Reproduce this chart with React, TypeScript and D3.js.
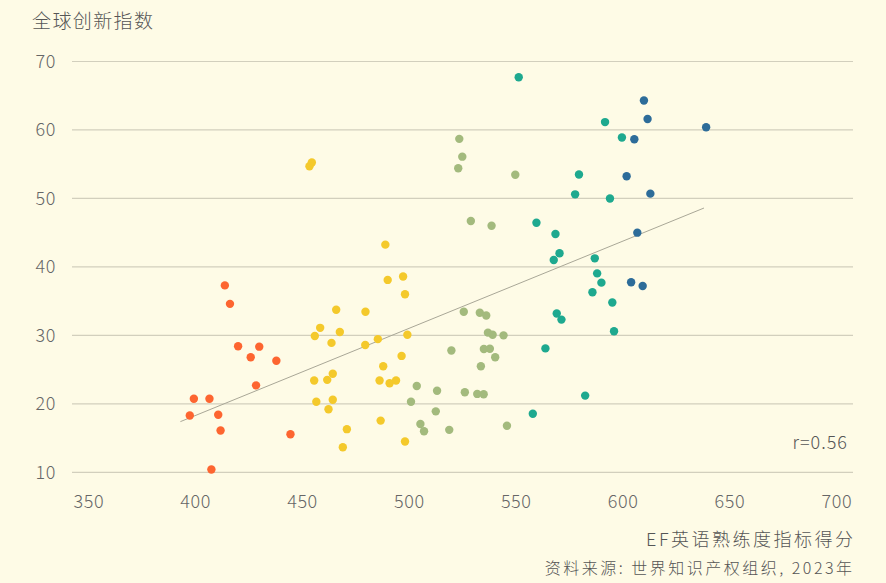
import React, { useEffect, useRef } from 'react';
import * as d3 from 'd3';

// EF English proficiency score (x) vs Global Innovation Index (y), grouped by score band
const orangeX = [413.8, 416.2, 420.0, 429.9, 425.9, 437.9, 428.4, 399.3, 406.6, 397.4, 410.7, 411.8, 444.5, 407.5];
const orangeY = [37.3, 34.6, 28.4, 28.35, 26.8, 26.3, 22.7, 20.75, 20.75, 18.3, 18.4, 16.1, 15.55, 10.4];

const yellowX = [454.5, 453.4, 488.9, 490.0, 497.2, 498.1, 465.9, 479.6, 458.4, 455.9, 467.6, 463.7, 485.4, 479.5, 499.2,
  496.5, 487.9, 464.3, 455.6, 461.7, 486.2, 490.9, 493.9, 456.6, 464.3, 462.3, 486.7, 470.9, 469.0, 498.1];
const yellowY = [55.25, 54.7, 43.25, 38.1, 38.6, 36.0, 33.75, 33.45, 31.1, 29.9, 30.5, 28.9, 29.45, 28.6, 30.1,
  27.0, 25.5, 24.4, 23.4, 23.5, 23.4, 23.0, 23.4, 20.3, 20.6, 19.2, 17.55, 16.3, 13.65, 14.5];

const sageX = [523.5, 524.9, 523.0, 549.7, 528.9, 538.6, 525.6, 533.1, 536.1, 536.9, 539.1, 544.2, 519.8, 535.0,
  537.8, 540.3, 533.6, 503.6, 513.1, 526.1, 531.9, 534.9, 500.9, 512.5, 505.3, 507.0, 518.8, 545.8];
const sageY = [58.7, 56.1, 54.4, 53.45, 46.7, 46.0, 33.45, 33.3, 32.9, 30.4, 30.1, 30.0, 27.8, 28.0,
  28.05, 26.8, 25.5, 22.6, 21.9, 21.7, 21.45, 21.4, 20.3, 18.9, 17.05, 16.0, 16.2, 16.8];

const tealX = [551.3, 591.7, 599.6, 579.5, 577.7, 594.0, 559.6, 568.5, 570.4, 567.7, 586.9, 588.0, 590.0, 585.8,
  595.1, 569.1, 571.3, 595.9, 563.8, 582.4, 557.9];
const tealY = [67.7, 61.15, 58.9, 53.5, 50.6, 50.0, 46.45, 44.8, 42.0, 41.0, 41.25, 39.05, 37.7, 36.3,
  34.8, 33.2, 32.3, 30.6, 28.1, 21.2, 18.55];

const blueX = [609.9, 611.6, 605.4, 601.8, 612.9, 606.8, 603.9, 609.3, 639.0];
const blueY = [64.3, 61.6, 58.65, 53.25, 50.7, 45.0, 37.75, 37.2, 60.4];

const trendX = [393, 638];
const trendY = [17.4, 48.6];

const xTicks = [350, 400, 450, 500, 550, 600, 650, 700];
const yTicks = [10, 20, 30, 40, 50, 60, 70];

const groups = [
  { xs: orangeX, ys: orangeY, color: '#fd6530' },
  { xs: yellowX, ys: yellowY, color: '#f4c92b' },
  { xs: sageX, ys: sageY, color: '#a3ba7d' },
  { xs: tealX, ys: tealY, color: '#1ea98f' },
  { xs: blueX, ys: blueY, color: '#2d6c99' },
];

const W = 886;
const H = 583;
const FONT = '"Noto Sans CJK SC", "Noto Sans", sans-serif';

const App = () => {
  const ref = useRef<SVGSVGElement>(null);

  useEffect(() => {
    const svg = d3.select(ref.current);
    svg.selectAll('*').remove();

    const x = d3.scaleLinear().domain([350, 700]).range([88.5, 836.5]);
    const y = d3.scaleLinear().domain([10, 70]).range([472.3, 61.5]);

    svg.append('rect').attr('width', W).attr('height', H).attr('fill', '#fefbe6');

    // gridlines
    svg.append('g')
      .selectAll('line')
      .data(yTicks)
      .join('line')
      .attr('x1', 72)
      .attr('x2', 853)
      .attr('y1', (d) => y(d))
      .attr('y2', (d) => y(d))
      .attr('stroke', '#d2cfbd')
      .attr('stroke-width', 1.2);

    // helper for text
    const label = (sel: any, size: number, spacing: number, color = '#666') =>
      sel
        .attr('dy', '0.35em')
        .style('font-family', FONT)
        .style('font-weight', 300)
        .style('font-size', `${size}px`)
        .style('letter-spacing', `${spacing}px`)
        .attr('fill', color);

    // y labels
    label(
      svg.append('g')
        .selectAll('text')
        .data(yTicks)
        .join('text')
        .attr('x', 56)
        .attr('y', (d) => y(d))
        .attr('text-anchor', 'end')
        .text((d) => d),
      18, 0.6
    );

    // x labels
    label(
      svg.append('g')
        .selectAll('text')
        .data(xTicks)
        .join('text')
        .attr('x', (d) => x(d) + 0.3)
        .attr('y', 502)
        .attr('text-anchor', 'middle')
        .text((d) => d),
      18, 0.6
    );

    // trend line
    svg.append('line')
      .attr('x1', x(trendX[0]))
      .attr('y1', y(trendY[0]))
      .attr('x2', x(trendX[1]))
      .attr('y2', y(trendY[1]))
      .attr('stroke', '#a9a797')
      .attr('stroke-width', 1);

    // points
    groups.forEach((g) => {
      svg.append('g')
        .selectAll('circle')
        .data(g.xs.map((v, i) => [v, g.ys[i]]))
        .join('circle')
        .attr('cx', (d) => x(d[0]))
        .attr('cy', (d) => y(d[1]))
        .attr('r', 4.2)
        .attr('fill', g.color);
    });

    // texts
    label(svg.append('text').attr('x', 32).attr('y', 21).text('全球创新指数'), 19, 1.4, '#555');

    label(
      svg.append('text').attr('x', 848).attr('y', 443).attr('text-anchor', 'end').text('r=0.56'),
      18, 1, '#555'
    );

    label(
      svg.append('text').attr('x', 855.5).attr('y', 540).attr('text-anchor', 'end').text('EF英语熟练度指标得分'),
      18, 2.5, '#555'
    );

    label(
      svg.append('text').attr('x', 854.5).attr('y', 568).attr('text-anchor', 'end').text('资料来源: 世界知识产权组织, 2023年'),
      16, 2.5, '#555'
    );
  }, []);

  return (
    <svg
      ref={ref}
      width={W}
      height={H}
      style={{ position: 'absolute', left: 0, top: 0, display: 'block' }}
    />
  );
};

export default App;
